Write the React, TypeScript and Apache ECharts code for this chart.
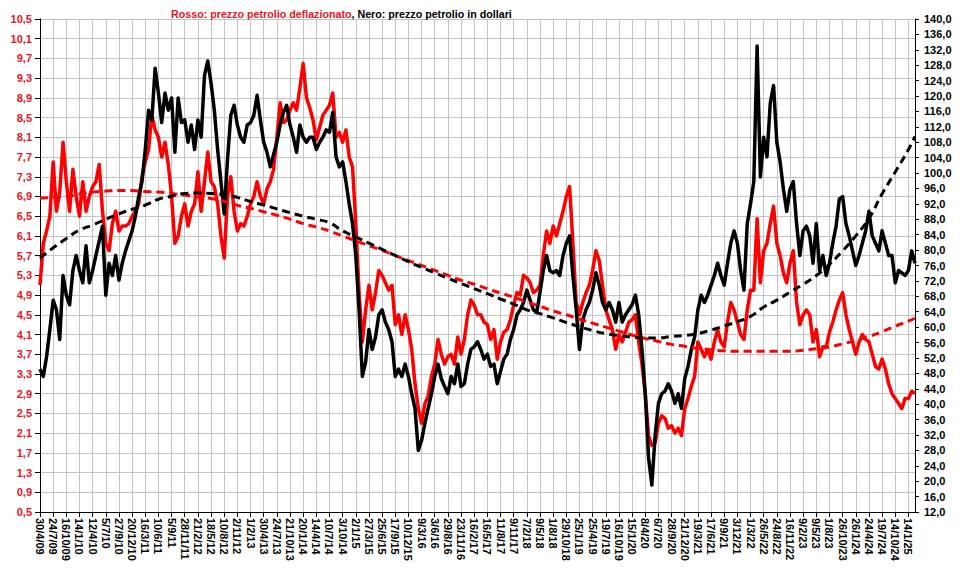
import React, { useEffect, useRef } from "react";
import * as echarts from "echarts";

const tickLabels = [
  "30/4/09", "24/7/09", "16/10/09", "14/1/10", "12/4/10", "5/7/10", "27/9/10", "20/12/10",
  "16/3/11", "10/6/11", "5/9/11", "28/11/11", "21/2/12", "18/5/12", "10/8/12", "2/11/12",
  "1/2/13", "30/4/13", "24/7/13", "21/10/13", "20/1/14", "14/4/14", "10/7/14", "3/10/14",
  "2/1/15", "27/3/15", "25/6/15", "17/9/15", "10/12/15", "9/3/16", "3/6/16", "29/8/16",
  "23/11/16", "16/2/17", "16/5/17", "11/8/17", "9/11/17", "7/2/18", "9/5/18", "1/8/18",
  "29/10/18", "25/1/19", "25/4/19", "19/7/19", "16/10/19", "15/1/20", "8/4/20", "6/7/20",
  "28/9/20", "21/12/20", "19/3/21", "17/6/21", "9/9/21", "3/12/21", "1/3/22", "26/5/22",
  "24/8/22", "16/11/22", "9/2/23", "9/5/23", "1/8/23", "26/10/23", "26/1/24", "24/4/24",
  "19/7/24", "14/10/24", "14/1/25",
];

// points per tick-label interval
const STEP = 4;

// Rosso: prezzo petrolio deflazionato (left axis)
const deflatedPrice = [
  5.1, 5.95, 6.2, 6.5, 7.6, 6.6, 7.0, 8.0, 7.2, 6.6, 7.45, 6.9, 6.5, 7.2, 6.6, 6.9, 7.1, 7.2, 7.55, 6.6,
  5.95, 5.8, 6.35, 6.6, 6.2, 6.3, 6.3, 6.35, 6.5, 6.6, 6.75, 7.3, 7.6, 7.85, 8.55, 8.25, 8.1, 7.7, 8.0, 7.55,
  6.9, 5.95, 6.1, 6.5, 6.75, 6.3, 6.6, 6.75, 7.4, 6.6, 7.2, 7.8, 7.2, 7.1, 6.75, 6.1, 5.65, 6.9, 7.3, 6.6,
  6.2, 6.35, 6.3, 6.5, 6.75, 6.9, 7.2, 6.9, 6.75, 7.05, 7.2, 7.45, 8.1, 8.8, 8.4, 8.45, 8.65, 8.8, 8.65, 9.1,
  9.6, 8.9, 8.7, 8.45, 8.05, 8.3, 8.55, 8.65, 8.75, 9.0, 8.1, 8.2, 8.0, 8.25, 7.7, 7.5, 6.35, 4.95, 3.95, 4.6,
  5.1, 4.6, 4.95, 5.4, 5.3, 5.15, 5.0, 5.1, 4.3, 4.5, 4.1, 4.5, 4.2, 3.8, 3.1, 2.6, 2.3, 2.7, 2.85, 3.25,
  3.5, 4.0, 3.7, 3.5, 3.65, 3.7, 3.5, 4.05, 3.7, 4.0, 4.5, 4.8, 4.7, 4.5, 4.5, 4.35, 4.3, 4.0, 4.2, 3.6,
  3.95, 4.15, 4.2, 4.4, 4.7, 4.95, 4.9, 5.3, 5.25, 5.15, 4.95, 5.0, 5.1, 5.7, 6.2, 5.95, 6.3, 6.1, 6.35, 6.6,
  6.9, 7.1, 5.95, 4.75, 4.5, 4.75, 4.95, 5.1, 5.4, 5.8, 5.6, 5.1, 4.6, 4.4, 4.2, 3.8, 4.1, 3.95, 4.15, 4.35,
  4.4, 4.5, 3.95, 3.5, 2.9, 2.05, 1.85, 1.9, 2.3, 2.45, 2.4, 2.2, 2.25, 2.1, 2.2, 2.05, 2.6, 2.8, 3.05, 3.25,
  3.95, 3.8, 3.65, 3.8, 3.6, 3.95, 4.2, 3.95, 3.85, 4.35, 4.75, 4.6, 4.35, 4.1, 4.0, 4.6, 5.0, 5.0, 6.45, 5.15,
  5.8, 5.95, 6.35, 6.7, 5.95, 5.7, 5.35, 5.15, 5.55, 5.8, 4.75, 4.3, 4.5, 4.6, 4.5, 3.95, 4.2, 3.65, 3.85, 3.85,
  4.15, 4.35, 4.6, 4.8, 4.95, 4.5, 4.2, 3.95, 3.7, 3.95, 4.1, 4.0, 3.95, 3.7, 3.45, 3.4, 3.6, 3.4, 3.1, 2.9,
  2.8, 2.7, 2.6, 2.8, 2.8, 2.95, 2.9,
];

// Nero: prezzo petrolio in dollari (right axis)
const dollarPrice = [
  49.1, 47.2, 52.3, 59.4, 67.0, 64.5, 56.8, 73.4, 68.3, 65.8, 74.7, 78.6, 74.7, 71.5, 81.1, 71.5, 74.7, 78.6, 82.4, 86.2,
  68.3, 76.6, 73.4, 78.6, 72.2, 76.6, 79.8, 82.4, 85.0, 88.8, 93.9, 97.8, 106.1, 116.3, 113.8, 127.2, 120.8, 113.1, 120.8, 116.3,
  119.5, 105.4, 119.5, 113.1, 113.8, 108.0, 112.5, 106.1, 113.8, 109.3, 125.3, 129.1, 123.4, 116.3, 106.1, 97.8, 89.4, 103.5, 115.0, 117.6,
  112.5, 109.3, 108.0, 112.5, 113.1, 115.0, 120.2, 113.8, 108.0, 105.4, 101.6, 104.8, 108.0, 112.5, 115.7, 117.6, 112.5, 109.3, 105.4, 112.5,
  109.3, 108.0, 109.3, 109.3, 106.1, 108.0, 109.3, 111.2, 110.6, 115.7, 104.2, 101.6, 102.9, 97.8, 92.0, 86.9, 78.6, 64.5, 47.2, 51.0,
  59.4, 54.2, 57.4, 63.2, 64.5, 61.3, 59.4, 56.2, 47.2, 49.1, 47.2, 50.4, 47.2, 42.7, 38.9, 28.0, 30.6, 35.0, 38.9, 42.7,
  47.2, 50.4, 46.6, 44.6, 42.7, 47.2, 45.3, 50.4, 44.6, 45.3, 50.4, 54.2, 54.9, 56.2, 54.2, 51.7, 53.0, 49.8, 50.4, 45.3,
  48.5, 51.7, 53.0, 56.8, 59.4, 63.2, 64.5, 66.4, 69.6, 67.0, 64.5, 63.8, 69.0, 74.7, 78.6, 74.7, 74.1, 74.7, 73.4, 78.6,
  81.8, 83.7, 73.4, 64.5, 54.2, 61.9, 64.5, 66.4, 69.6, 74.1, 70.9, 66.4, 64.5, 66.4, 64.5, 61.3, 66.4, 61.3, 63.2, 64.5,
  65.8, 68.3, 63.2, 54.2, 42.7, 26.1, 19.0, 31.8, 40.2, 42.7, 43.4, 45.3, 43.4, 40.2, 42.7, 38.9, 46.6, 49.8, 54.2, 57.4,
  64.5, 68.3, 66.4, 68.3, 70.9, 73.4, 76.6, 73.4, 70.9, 76.6, 81.8, 85.0, 81.8, 74.7, 69.6, 86.9, 92.0, 97.8, 133.0, 99.0,
  109.3, 104.2, 118.2, 122.7, 108.0, 102.9, 95.8, 90.1, 95.8, 97.8, 86.9, 78.6, 85.0, 86.2, 83.7, 76.6, 86.9, 74.7, 78.6, 73.4,
  76.6, 81.8, 86.2, 93.3, 93.9, 86.9, 83.7, 79.8, 76.0, 78.6, 81.8, 85.0, 90.1, 83.7, 81.8, 79.8, 85.0, 81.8, 78.6, 78.6,
  71.5, 74.7, 74.1, 73.4, 74.7, 79.8, 76.6,
];

// trend curves read at every tick label, plus the final point
const deflatedTrend = [
  6.87, 6.88, 6.9, 6.95, 6.99, 7.01, 7.02, 7.02, 7.0, 6.99, 6.96, 6.93, 6.89, 6.86, 6.8, 6.72, 6.66, 6.59, 6.52, 6.44,
  6.35, 6.28, 6.2, 6.1, 6.0, 5.9, 5.81, 5.7, 5.6, 5.5, 5.4, 5.3, 5.2, 5.12, 5.03, 4.94, 4.86, 4.76, 4.67, 4.58,
  4.5, 4.41, 4.33, 4.25, 4.17, 4.09, 4.02, 3.96, 3.9, 3.86, 3.82, 3.79, 3.77, 3.76, 3.76, 3.76, 3.76, 3.76, 3.78, 3.81,
  3.85, 3.91, 3.98, 4.06, 4.16, 4.27, 4.37, 4.43,
];
const dollarTrend = [
  77.9, 80.6, 83.0, 85.2, 86.5, 88.0, 89.4, 90.6, 91.7, 93.2, 94.0, 94.7, 94.8, 94.7, 94.4, 93.7, 92.6, 91.7, 90.7, 89.7,
  88.8, 88.0, 87.1, 85.0, 83.4, 81.8, 80.2, 78.6, 77.0, 75.5, 74.1, 72.7, 71.3, 70.0, 68.7, 67.3, 66.0, 64.5, 63.5, 62.4,
  61.2, 60.1, 59.1, 58.3, 57.8, 57.4, 57.2, 57.2, 57.6, 57.8, 58.3, 59.2, 60.3, 61.4, 62.8, 65.2, 67.0, 69.1, 71.1, 73.4,
  76.3, 79.8, 83.7, 88.2, 94.6, 100.3, 106.1, 109.5,
];

const N = deflatedPrice.length;
const categories = deflatedPrice.map((_, j) =>
  j % STEP === 0 && tickLabels[j / STEP] ? tickLabels[j / STEP] : `${tickLabels[Math.floor(j / STEP)] ?? "end"}#${j % STEP}`
);
const expandTrend = (t: number[]) =>
  deflatedPrice.map((_, j) => {
    if (j % STEP === 0 && j / STEP < t.length - 1) return t[j / STEP];
    if (j === N - 1) return t[t.length - 1];
    return null;
  });
const isTick = (j: number) => j % STEP === 0 && j / STEP < tickLabels.length;
const comma = (v: number) => v.toFixed(1).replace(".", ",");

const FONT = "'Liberation Sans', Arial, sans-serif";

export default function App() {
  const ref = useRef<HTMLDivElement>(null);
  useEffect(() => {
    if (!ref.current) return;
    const chart = echarts.init(ref.current, undefined, { renderer: "svg" });
    chart.setOption({
      animation: false,
      backgroundColor: "#ffffff",
      textStyle: { fontFamily: FONT },
      title: {
        text: "{r|Rosso: prezzo petrolio deflazionato}{k|, Nero: prezzo petrolio in dollari}",
        left: 166,
        top: 3,
        textStyle: {
          rich: {
            r: { color: "#e8141b", fontSize: 10.7, fontWeight: "bold", fontFamily: FONT },
            k: { color: "#000000", fontSize: 10.7, fontWeight: "bold", fontFamily: FONT },
          },
        },
      },
      grid: { left: 40, right: 51, top: 19, bottom: 76, containLabel: false },
      xAxis: {
        type: "category",
        data: categories,
        boundaryGap: false,
        axisLine: { lineStyle: { color: "#000", width: 1 } },
        axisTick: { show: true, interval: (j: number) => isTick(j), length: 5, lineStyle: { color: "#000" } },
        axisLabel: {
          interval: (j: number) => isTick(j),
          rotate: -90,
          color: "#000",
          fontSize: 11,
          fontWeight: "bold",
          fontFamily: FONT,
          margin: 6,
          formatter: (v: string) => v,
        },
        splitLine: { show: true, interval: (j: number) => isTick(j), lineStyle: { color: "#c4c4c4", width: 1 } },
      },
      yAxis: [
        {
          type: "value",
          min: 0.5,
          max: 10.5,
          interval: 0.4,
          position: "left",
          axisLine: { show: true, lineStyle: { color: "#000", width: 1 } },
          axisTick: { show: true, length: 5, lineStyle: { color: "#000" } },
          axisLabel: {
            color: "#e8141b",
            fontSize: 11,
            fontWeight: "bold",
            fontFamily: FONT,
            margin: 8,
            formatter: (v: number) => comma(v),
          },
          splitLine: { show: true, lineStyle: { color: "#c4c4c4", width: 1 } },
        },
        {
          type: "value",
          min: 12,
          max: 140,
          interval: 4,
          position: "right",
          axisLine: { show: true, lineStyle: { color: "#000", width: 1 } },
          axisTick: { show: true, length: 4, lineStyle: { color: "#000" } },
          axisLabel: {
            color: "#000",
            fontSize: 11,
            fontWeight: "bold",
            fontFamily: FONT,
            margin: 9,
            formatter: (v: number) => comma(v),
          },
          splitLine: { show: false },
        },
      ],
      series: [
        {
          name: "Rosso",
          type: "line",
          yAxisIndex: 0,
          data: deflatedPrice,
          showSymbol: false,
          lineStyle: { color: "#ff0000", width: 3.5, join: "round" },
          itemStyle: { color: "#ff0000" },
          z: 2,
        },
        {
          name: "Nero",
          type: "line",
          yAxisIndex: 1,
          data: dollarPrice,
          showSymbol: false,
          lineStyle: { color: "#000000", width: 3.5, join: "round" },
          itemStyle: { color: "#000000" },
          z: 3,
        },
        {
          name: "Trend rosso",
          type: "line",
          yAxisIndex: 0,
          data: expandTrend(deflatedTrend),
          connectNulls: true,
          smooth: true,
          showSymbol: false,
          lineStyle: { color: "#ff0000", width: 3, type: [8, 5] },
          z: 4,
        },
        {
          name: "Trend nero",
          type: "line",
          yAxisIndex: 1,
          data: expandTrend(dollarTrend),
          connectNulls: true,
          smooth: true,
          showSymbol: false,
          lineStyle: { color: "#000000", width: 3, type: [8, 5] },
          z: 5,
        },
      ],
    });
    return () => chart.dispose();
  }, []);
  return (
    <div
      ref={ref}
      style={{ position: "fixed", left: 0, top: 0, width: 966, height: 588, background: "#fff" }}
    />
  );
}
